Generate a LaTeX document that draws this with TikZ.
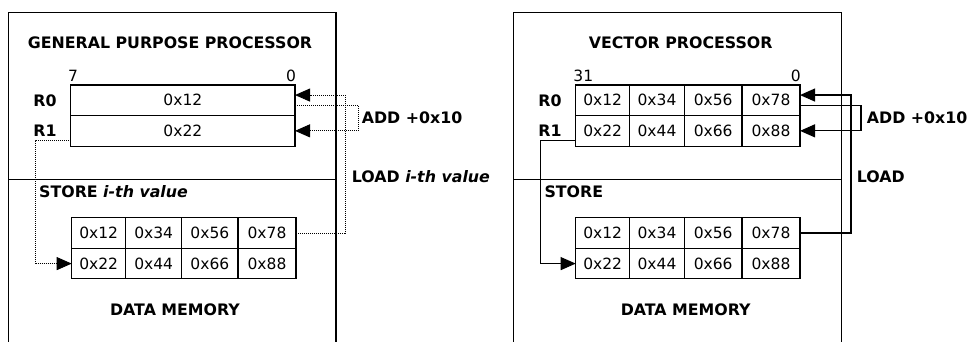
\documentclass[tikz,border=0pt]{standalone}
\usepackage{fontspec}
\setmainfont{DejaVu Sans}
\usetikzlibrary{arrows.meta,calc}
\begin{document}
\begin{tikzpicture}[x=1pt,y=-1pt,
  every node/.style={font=\fontsize{15.5}{18}\selectfont},
  frame/.style={line width=1.1pt},
  cell/.style={draw,line width=1.1pt,inner sep=0pt,outer sep=0pt,minimum height=30.6pt},
  lbl/.style={font=\fontsize{15.8}{18}\selectfont\bfseries,inner sep=0pt},
  num/.style={inner sep=0pt},
  dotline/.style={line width=0.9pt,dash pattern=on 1pt off 1pt},
  solidline/.style={line width=1.1pt},
  arrowtip/.style={-{Triangle[length=15pt,width=13pt]}}
]
\useasboundingbox (0,0) rectangle (968,342);
% ===== Left panel =====
\draw[frame] (8.7,342) -- (8.7,12.7) -- (336,12.7) -- (336,342);
\draw[frame] (8.7,179.3) -- (336,179.3);
\node[lbl] (gpt) at (170,42.7) {GENERAL PURPOSE PROCESSOR};
\node[num] (g7) at (73,76) {7};
\node[num] (g0) at (291,76) {0};
\node[lbl] (gr0l) at (45,100.3) {R0};
\node[lbl] (gr1l) at (45,131) {R1};
\node[cell,minimum width=224.3pt] (gr0) at (182.85,100.35) {0x12};
\node[cell,minimum width=224.3pt] (gr1) at (182.85,130.85) {0x22};
% memory
\node[cell,minimum width=54pt] (gma) at (98.7,233) {0x12};
\node[cell,minimum width=56pt] (gmb) at (153.7,233) {0x34};
\node[cell,minimum width=56.3pt] (gmc) at (209.85,233) {0x56};
\node[cell,minimum width=58pt] (gmd) at (267,233) {0x78};
\node[cell,minimum width=54pt] (gme) at (98.7,263.6) {0x22};
\node[cell,minimum width=56pt] (gmf) at (153.7,263.6) {0x44};
\node[cell,minimum width=56.3pt] (gmg) at (209.85,263.6) {0x66};
\node[cell,minimum width=58pt] (gmh) at (267,263.6) {0x88};
\node[lbl] (gdm) at (175,310) {DATA MEMORY};
\node[lbl,anchor=west] (gst) at (39,191.7) {STORE \textit{i-th value}};
\node[lbl,anchor=west] (gadd) at (361.7,117.3) {ADD +0x10};
\node[lbl,anchor=west] (gld) at (351.7,176.7) {LOAD \textit{i-th value}};
% connectors
\coordinate (gsx) at (35.7,0);
\coordinate (gs0) at ([yshift=5.7pt]gr1.south west);
\draw[dotline,arrowtip] (gs0) -- (gs0 -| gsx) -- (gsx |- gme.west) -- (gme.west);
\coordinate (glx) at (345,0);
\coordinate (ga0) at ([yshift=5.3pt]gr0.east);
\draw[dotline,arrowtip] (gmd.east) -- (gmd.east -| glx) -- (glx |- ga0) -- (ga0);
\coordinate (gax) at (358.3,0);
\coordinate (gaf) at ([yshift=-5pt]gr0.east);
\draw[dotline,arrowtip] (gaf) -- (gaf -| gax) -- (gax |- gr1.east) -- (gr1.east);
% ===== Right panel =====
\draw[frame] (513.3,342) -- (513.3,12.7) -- (841.7,12.7) -- (841.7,342);
\draw[frame] (513.3,179.3) -- (841.7,179.3);
\node[lbl] (vpt) at (680.7,42.7) {VECTOR PROCESSOR};
\node[num] (v31) at (583.3,76) {31};
\node[num] (v0) at (795.7,76) {0};
\node[lbl] (vr0l) at (550,100.3) {R0};
\node[lbl] (vr1l) at (550,131) {R1};
\node[cell,minimum width=54pt] (vra) at (602.7,100.35) {0x12};
\node[cell,minimum width=54.6pt] (vrb) at (657,100.35) {0x34};
\node[cell,minimum width=57.7pt] (vrc) at (713.15,100.35) {0x56};
\node[cell,minimum width=58pt] (vrd) at (771,100.35) {0x78};
\node[cell,minimum width=54pt] (vre) at (602.7,130.85) {0x22};
\node[cell,minimum width=54.6pt] (vrf) at (657,130.85) {0x44};
\node[cell,minimum width=57.7pt] (vrg) at (713.15,130.85) {0x66};
\node[cell,minimum width=58pt] (vrh) at (771,130.85) {0x88};
\node[cell,minimum width=54pt] (vma) at (602.7,233) {0x12};
\node[cell,minimum width=54.6pt] (vmb) at (657,233) {0x34};
\node[cell,minimum width=57.7pt] (vmc) at (713.15,233) {0x56};
\node[cell,minimum width=58pt] (vmd) at (771,233) {0x78};
\node[cell,minimum width=54pt] (vme) at (602.7,263.6) {0x22};
\node[cell,minimum width=54.6pt] (vmf) at (657,263.6) {0x44};
\node[cell,minimum width=57.7pt] (vmg) at (713.15,263.6) {0x66};
\node[cell,minimum width=58pt] (vmh) at (771,263.6) {0x88};
\node[lbl] (vdm) at (685.7,310) {DATA MEMORY};
\node[lbl,anchor=west] (vst) at (544.3,191.7) {STORE};
\node[lbl,anchor=west] (vadd) at (866.7,117.3) {ADD +0x10};
\node[lbl,anchor=west] (vld) at (856.7,176.7) {LOAD};
% connectors
\coordinate (vsx) at (540.7,0);
\coordinate (vs0) at ([yshift=5.7pt]vre.south west);
\draw[solidline,arrowtip] (vs0) -- (vs0 -| vsx) -- (vsx |- vme.west) -- (vme.west);
\coordinate (vlx) at (851,0);
\coordinate (va0) at ([yshift=5.3pt]vrd.east);
\draw[solidline,arrowtip] (vmd.east) -- (vmd.east -| vlx) -- (vlx |- va0) -- (va0);
\coordinate (vax) at (861,0);
\coordinate (vaf) at ([yshift=-5pt]vrd.east);
\draw[solidline,arrowtip] (vaf) -- (vaf -| vax) -- (vax |- vrh.east) -- (vrh.east);
\end{tikzpicture}
\end{document}
